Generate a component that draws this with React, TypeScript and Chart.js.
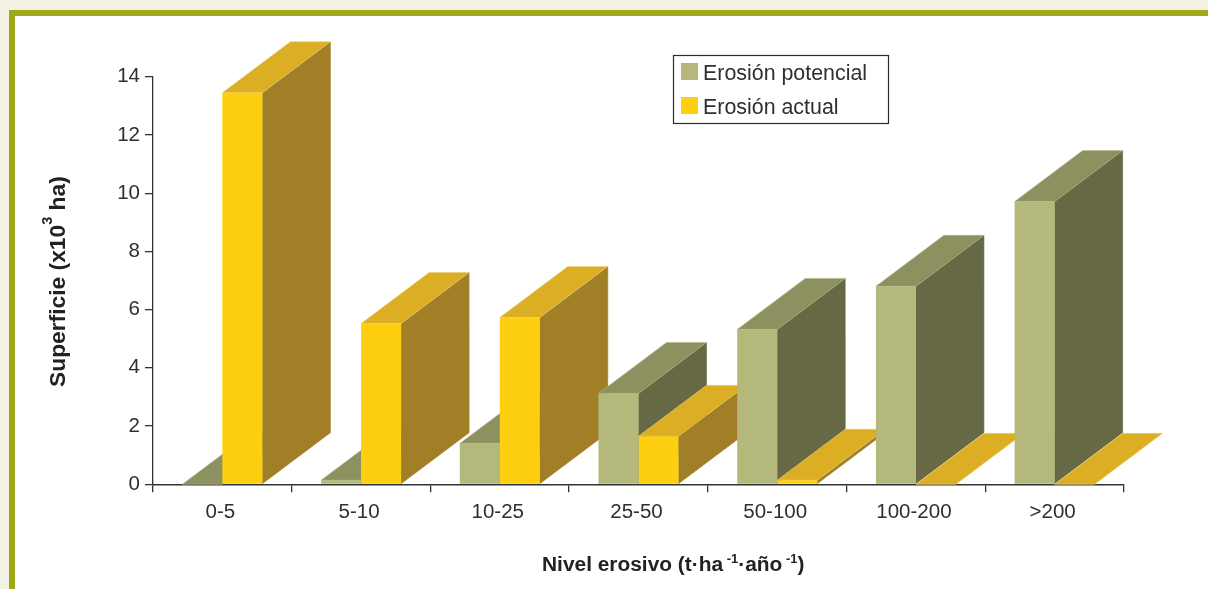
import React, { useEffect, useRef } from "react";
import { Chart, registerables } from "chart.js";

Chart.register(...registerables);

const categories = ["0-5", "5-10", "10-25", "25-50", "50-100", "100-200", ">200"];
const potencial = [0, 0.14, 1.4, 3.12, 5.32, 6.8, 9.71];
const actual = [13.45, 5.52, 5.73, 1.65, 0.14, 0, 0];
const seriesNames = ["Erosión potencial", "Erosión actual"];
const yTicks = [0, 2, 4, 6, 8, 10, 12, 14];

const FONT = '"Liberation Sans", Arial, sans-serif';
const INK = "#2f2f2f";
const DEPTH_X = 68;
const DEPTH_Y = 51;
const FACES = [
  { front: "#b4b97b", top: "#8d9160", side: "#676944", edge: "#b4b78c" },
  { front: "#fecf11", top: "#dcae24", side: "#a07f27", edge: "#ecd07c" },
];

type Seg = { t: string; sup?: boolean };
const yTitle: Seg[] = [{ t: "Superficie (x10" }, { t: "3", sup: true }, { t: " ha)" }];
const xTitle: Seg[] = [
  { t: "Nivel erosivo (t·ha" },
  { t: " -1", sup: true },
  { t: "·año" },
  { t: " -1", sup: true },
  { t: ")" },
];

function drawSegs(ctx: CanvasRenderingContext2D, segs: Seg[], size: number, supSize: number, rise: number) {
  let x = 0;
  for (const s of segs) {
    ctx.font = `bold ${s.sup ? supSize : size}px ${FONT}`;
    ctx.fillText(s.t, x, s.sup ? -rise : 0);
    x += ctx.measureText(s.t).width;
  }
}

const depthPlugin = {
  id: "depth",
  beforeDatasetsDraw(chart: any) {
    const ctx: CanvasRenderingContext2D = chart.ctx;
    ctx.save();
    categories.forEach((_, i) => {
      FACES.forEach((face, d) => {
        const bar = chart.getDatasetMeta(d).data[i];
        const { x, y, base, width } = bar.getProps(["x", "y", "base", "width"], true);
        const l = x - width / 2;
        const r = x + width / 2;
        const poly = (pts: number[][], fill: string, stroke: string) => {
          ctx.beginPath();
          pts.forEach((p, k) => (k ? ctx.lineTo(p[0], p[1]) : ctx.moveTo(p[0], p[1])));
          ctx.closePath();
          ctx.fillStyle = fill;
          ctx.fill();
          ctx.strokeStyle = stroke;
          ctx.lineWidth = 0.6;
          ctx.stroke();
        };
        if (base - y > 0.01) {
          poly(
            [[r, y], [r + DEPTH_X, y - DEPTH_Y], [r + DEPTH_X, base - DEPTH_Y], [r, base]],
            face.side,
            face.side
          );
        }
        poly(
          [[l, y], [l + DEPTH_X, y - DEPTH_Y], [r + DEPTH_X, y - DEPTH_Y], [r, y]],
          face.top,
          face.edge
        );
      });
    });
    ctx.restore();
  },
};

const annotationPlugin = {
  id: "annotations",
  afterDraw(chart: any) {
    const ctx: CanvasRenderingContext2D = chart.ctx;
    ctx.save();
    // legend
    ctx.strokeStyle = "#2a2a2a";
    ctx.lineWidth = 1.2;
    ctx.strokeRect(673.5, 55.5, 215, 68);
    ctx.textBaseline = "alphabetic";
    ctx.textAlign = "left";
    chart.data.datasets.forEach((ds: any, i: number) => {
      const top = 63 + i * 34;
      ctx.fillStyle = ds.backgroundColor;
      ctx.fillRect(681, top, 17, 17);
      ctx.fillStyle = INK;
      ctx.font = `21.4px ${FONT}`;
      ctx.fillText(ds.label, 703, top + 17);
    });
    // axis titles
    ctx.fillStyle = "#222222";
    ctx.save();
    ctx.translate(542, 570.5);
    drawSegs(ctx, xTitle, 20.9, 13, 8);
    ctx.restore();
    ctx.save();
    ctx.translate(65, 387);
    ctx.rotate(-Math.PI / 2);
    drawSegs(ctx, yTitle, 22.8, 14.5, 13);
    ctx.restore();
    ctx.restore();
  },
};

export default function App() {
  const ref = useRef<HTMLCanvasElement>(null);
  useEffect(() => {
    const chart = new Chart(ref.current!, {
      type: "bar",
      data: {
        labels: categories,
        datasets: [
          { label: seriesNames[0], data: potencial, backgroundColor: FACES[0].front, borderWidth: 0 },
          { label: seriesNames[1], data: actual, backgroundColor: FACES[1].front, borderWidth: 0 },
        ],
      },
      plugins: [depthPlugin, annotationPlugin],
      options: {
        animation: false,
        responsive: false,
        layout: { padding: { left: 0, right: 84, top: 76.7, bottom: 0 } },
        plugins: { legend: { display: false }, title: { display: false }, tooltip: { enabled: false } },
        datasets: { bar: { barPercentage: 1, categoryPercentage: 0.577 } },
        scales: {
          x: {
            grid: { drawOnChartArea: false, drawTicks: true, tickLength: 8, color: "#333333", lineWidth: 1.3 },
            border: { display: true, color: "#333333", width: 1.6 },
            ticks: { color: INK, font: { family: FONT, size: 20.5 }, padding: 8, maxRotation: 0, labelOffset: -2 },
            afterFit: (s: any) => {
              s.height = 104.7;
            },
          },
          y: {
            min: 0,
            max: 14,
            afterBuildTicks: (s: any) => {
              s.ticks = yTicks.map((value) => ({ value }));
            },
            grid: { drawOnChartArea: false, drawTicks: true, tickLength: 8, color: "#333333", lineWidth: 1.3 },
            border: { display: true, color: "#333333", width: 1.3 },
            ticks: { color: INK, font: { family: FONT, size: 20.5 }, padding: 5 },
            afterFit: (s: any) => {
              s.width = 153;
            },
          },
        },
      },
    } as any);
    return () => chart.destroy();
  }, []);

  return (
    <div style={{ position: "relative", width: 1208, height: 589, overflow: "hidden", background: "#f1f2e3" }}>
      <style>{"html,body{margin:0;padding:0;overflow:hidden}"}</style>
      <div
        style={{
          position: "absolute",
          left: 9,
          top: 10,
          right: 0,
          bottom: 0,
          background: "#ffffff",
          borderLeft: "6px solid #a0a915",
          borderTop: "6px solid #a0a915",
        }}
      />
      <canvas ref={ref} width={1208} height={589} style={{ position: "absolute", left: 0, top: 0, display: "block" }} />
    </div>
  );
}
